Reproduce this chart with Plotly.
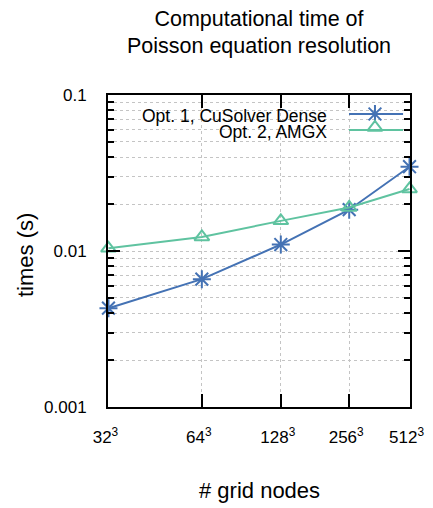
import math
import plotly.graph_objects as go

# x positions: log2 of number of grid nodes (N^3), shown on a log axis
grid_exp = [15, 18, 21, 24, 27]
tick_labels = ["32<sup>3</sup>", "64<sup>3</sup>", "128<sup>3</sup>", "256<sup>3</sup>", "512<sup>3</sup>"]
cusolver_dense = [0.0043, 0.0066, 0.0110, 0.0184, 0.0347]
amgx = [0.0104, 0.0123, 0.0156, 0.0190, 0.0250]
series_names = ["Opt. 1, CuSolver Dense", "Opt. 2, AMGX"]

BLUE = "#4472b4"
GREEN = "#5fc3a0"
FONT = "Liberation Sans, Arial, sans-serif"

OFF = 8  # page body margin
W, H = 433 - OFF, 508 - OFF
L, T = 108 - OFF, 95 - OFF
PW, PH = 302, 312
R, B = W - L - PW, H - T - PH

fig = go.Figure()
fig.add_trace(go.Scatter(
    x=grid_exp, y=cusolver_dense, mode="lines+markers", name=series_names[0],
    line=dict(color=BLUE, width=2),
    marker=dict(symbol="asterisk-open", size=15, line=dict(color=BLUE, width=2), color=BLUE),
    showlegend=False, cliponaxis=False))
fig.add_trace(go.Scatter(
    x=grid_exp, y=amgx, mode="lines+markers", name=series_names[1],
    line=dict(color=GREEN, width=2),
    marker=dict(symbol="triangle-up-open", size=13, line=dict(color=GREEN, width=2), color=GREEN),
    showlegend=False, cliponaxis=False))

# custom legend (gnuplot style: text then sample) on an overlay axis
leg_x = [0.798, 0.977]
fig.add_trace(go.Scatter(x=leg_x, y=[0.939, 0.939], mode="lines", line=dict(color=BLUE, width=2),
                         xaxis="x2", yaxis="y2", showlegend=False, hoverinfo="skip"))
fig.add_trace(go.Scatter(x=[0.884], y=[0.939], mode="markers",
                         marker=dict(symbol="asterisk-open", size=15, color=BLUE,
                                     line=dict(color=BLUE, width=2)),
                         xaxis="x2", yaxis="y2", showlegend=False, hoverinfo="skip"))
fig.add_trace(go.Scatter(x=leg_x, y=[0.888, 0.888], mode="lines", line=dict(color=GREEN, width=2),
                         xaxis="x2", yaxis="y2", showlegend=False, hoverinfo="skip"))
fig.add_trace(go.Scatter(x=[0.884], y=[0.896], mode="markers",
                         marker=dict(symbol="triangle-up-open", size=13, color=GREEN,
                                     line=dict(color=GREEN, width=2)),
                         xaxis="x2", yaxis="y2", showlegend=False, hoverinfo="skip"))

minor_y = [k * 10 ** e for e in (-3, -2) for k in range(2, 10)]
pad = 0.0004

fig.update_layout(
    width=W, height=H,
    margin=dict(l=L, r=R, t=T, b=B, pad=0, autoexpand=False),
    plot_bgcolor="white", paper_bgcolor="white",
    font=dict(family=FONT, color="black", size=17),
    title=dict(text="Computational time of<br>Poisson equation resolution",
               x=(L + PW / 2) / W, xanchor="center",
               y=1 - 17.5 / H, yanchor="middle", yref="container",
               font=dict(size=21.5, family=FONT, color="black")),
    xaxis=dict(type="log", range=[math.log10(grid_exp[0]) - pad, math.log10(grid_exp[-1]) + pad],
               tickmode="array", tickvals=grid_exp, ticktext=tick_labels, automargin=False,
               showline=True, linecolor="black", linewidth=2, mirror="allticks",
               ticks="inside", ticklen=13, tickwidth=2, tickcolor="black",
               showgrid=True, gridcolor="#c4c4c4", griddash="dot", gridwidth=1,
               zeroline=False, ticklabelstandoff=14, ticklabelshift=-3,
               tickfont=dict(size=17, family=FONT)),
    yaxis=dict(type="log", range=[-3, -1], automargin=False,
               tickmode="array", tickvals=[0.001, 0.01, 0.1], ticktext=["0.001", "0.01", "0.1"],
               showline=True, linecolor="black", linewidth=2, mirror="allticks",
               ticks="inside", ticklen=12, tickwidth=2, tickcolor="black",
               showgrid=True, gridcolor="#c4c4c4", griddash="dot", gridwidth=1,
               zeroline=False, ticklabelstandoff=16,
               tickfont=dict(size=17, family=FONT),
               minor=dict(tickmode="array", tickvals=minor_y, ticks="inside", ticklen=6,
                          tickwidth=2, tickcolor="black", showgrid=True,
                          gridcolor="#c4c4c4", griddash="dot", gridwidth=1)),
    xaxis2=dict(overlaying="x", range=[0, 1], visible=False, fixedrange=True),
    yaxis2=dict(overlaying="y", range=[0, 1], visible=False, fixedrange=True),
    shapes=[dict(type="rect", xref="paper", yref="paper", x0=0.106, x1=0.983, y0=0.859, y1=0.971,
                 fillcolor="white", line=dict(width=0), layer="between")],
    annotations=[
        dict(text=series_names[0], xref="paper", yref="paper", x=0.732, y=0.933,
             xanchor="right", yanchor="middle", showarrow=False, font=dict(size=17.5, family=FONT)),
        dict(text=series_names[1], xref="paper", yref="paper", x=0.732, y=0.881,
             xanchor="right", yanchor="middle", showarrow=False, font=dict(size=17.5, family=FONT)),
        dict(text="times (s)", xref="paper", yref="paper", x=(25 - OFF - L) / PW,
             y=(T + PH - (255 - OFF)) / PH,
             xanchor="center", yanchor="middle", textangle=-90, showarrow=False,
             font=dict(size=22, family=FONT)),
        dict(text="# grid nodes", xref="paper", yref="paper", x=0.5,
             y=-((490 - OFF) - (T + PH)) / PH,
             xanchor="center", yanchor="middle", showarrow=False, font=dict(size=22, family=FONT)),
    ],
)

fig.write_html("out.html")
